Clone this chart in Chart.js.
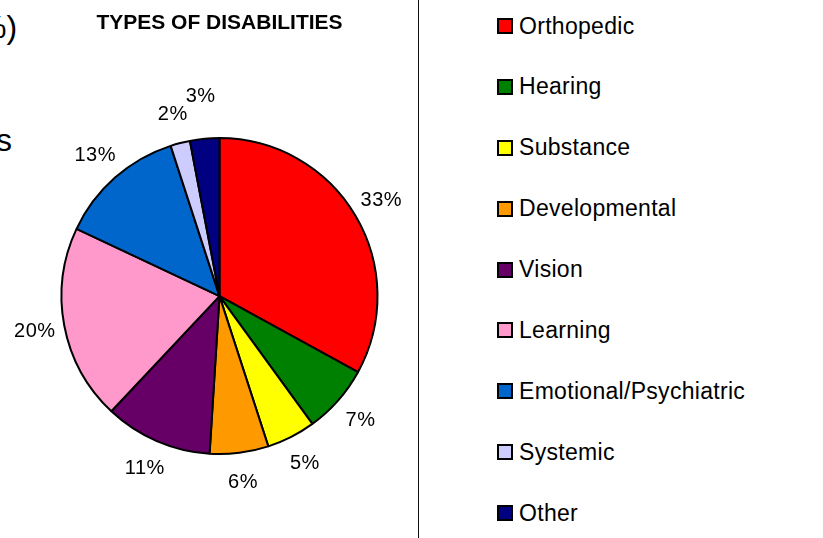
<!DOCTYPE html>
<html lang="en">
<head>
   <meta charset="UTF-8">
   <title>Types of Disabilities</title>
   <script src="https://cdn.jsdelivr.net/npm/chart.js"></script>
   <style>
      body { margin: 0; width: 823px; height: 538px; overflow: hidden; background: #fff; position: relative;
             font-family: Arial, "Liberation Sans", sans-serif; color: #000; }
      #chartBox { position: absolute; left: 0; top: 0; width: 419px; height: 538px; }
      #divider { position: absolute; left: 418px; top: 0; width: 1px; height: 538px; background: #111; }
      .frag { position: absolute; font-size: 32px; line-height: 32px; white-space: nowrap; }
      #legend { position: absolute; left: 497px; top: 0; }
      .item { position: absolute; left: 0; display: flex; align-items: center; height: 23px;
              font-size: 23px; line-height: 23px; letter-spacing: 0.3px; white-space: nowrap; }
      .swatch { width: 16px; height: 16px; box-sizing: border-box; border: 2px solid #000; margin-right: 6px; }
   </style>
</head>
<body>
   <!-- cut-off text from the neighbouring slide panel -->
   <div class="frag" style="left:-22px; top:11px;">%)</div>
   <div class="frag" style="left:-4px; top:124px;">s</div>

   <div id="chartBox"><canvas id="disabilityChart"></canvas></div>
   <div id="divider"></div>
   <div id="legend"></div>

   <script>
      // data
      const categories = ['Orthopedic', 'Hearing', 'Substance', 'Developmental', 'Vision',
                          'Learning', 'Emotional/Psychiatric', 'Systemic', 'Other'];
      const percentages = [33, 7, 5, 6, 11, 20, 13, 2, 3];
      const sliceColors = ['#FF0000', '#008000', '#FFFF00', '#FF9900', '#660066',
                           '#FF99CC', '#0066CC', '#CCCCFF', '#000080'];

      const FONT = 'Arial, "Liberation Sans", sans-serif';

      // percentage labels outside each slice, pushed outwards if they collide
      const outsideLabels = {
         id: 'outsideLabels',
         afterDatasetsDraw(chart) {
            const ctx = chart.ctx;
            const meta = chart.getDatasetMeta(0);
            ctx.save();
            ctx.font = '20px ' + FONT;
            ctx.letterSpacing = '0.5px';
            ctx.fillStyle = '#000';
            ctx.textAlign = 'center';
            ctx.textBaseline = 'middle';
            const placed = [];
            meta.data.forEach((arc, i) => {
               const p = arc.getProps(['x', 'y', 'startAngle', 'endAngle', 'outerRadius'], true);
               const mid = (p.startAngle + p.endAngle) / 2;
               const text = percentages[i] + '%';
               const w = ctx.measureText(text).width + 2;
               const h = 18;
               let r = p.outerRadius + 30;
               let x, y;
               const hits = () => placed.some(b => Math.abs(b.x - x) < (b.w + w) / 2 && Math.abs(b.y - y) < (b.h + h) / 2);
               do {
                  x = p.x + Math.cos(mid) * r;
                  y = p.y + Math.sin(mid) * r;
                  r += 1;
               } while (hits() && r < p.outerRadius + 90);
               placed.push({ x, y, w, h });
               ctx.fillText(text, x, y);
            });
            ctx.restore();
         }
      };

      const ctx1 = document.getElementById('disabilityChart').getContext('2d');
      new Chart(ctx1, {
         type: 'pie',
         data: {
            labels: categories,
            datasets: [{
               data: percentages,
               backgroundColor: sliceColors,
               borderColor: '#000',
               borderWidth: 2,
               radius: 158
            }]
         },
         options: {
            responsive: true,
            maintainAspectRatio: false,
            animation: false,
            events: [],
            layout: { padding: { left: 20 } },
            plugins: {
               legend: { display: false },
               tooltip: { enabled: false },
               title: {
                  display: true,
                  text: 'TYPES OF DISABILITIES',
                  color: '#000',
                  font: { family: FONT, size: 21, weight: 'bold' },
                  padding: { top: 11, bottom: 18 }
               }
            }
         },
         plugins: [outsideLabels]
      });

      // legend on the right
      const legend = document.getElementById('legend');
      categories.forEach((name, i) => {
         const item = document.createElement('div');
         item.className = 'item';
         item.style.top = (26 + i * 60.875 - 11.5) + 'px';
         item.innerHTML = `<span class="swatch" style="background:${sliceColors[i]}"></span><span>${name}</span>`;
         legend.appendChild(item);
      });
   </script>
</body>
</html>
